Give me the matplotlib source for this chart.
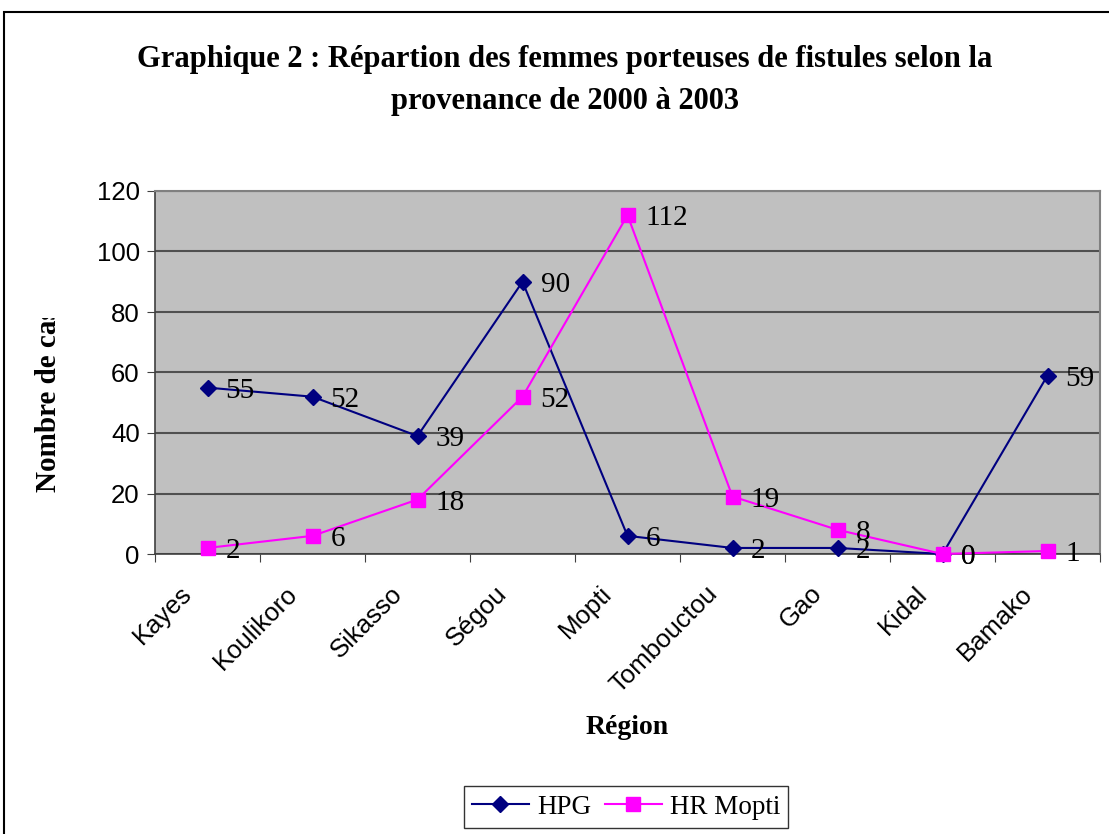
import matplotlib
matplotlib.use("Agg")
import matplotlib.pyplot as plt
from matplotlib.patches import Rectangle
from matplotlib.transforms import Bbox

regions = ["Kayes", "Koulikoro", "Sikasso", "Ségou", "Mopti", "Tombouctou", "Gao", "Kidal", "Bamako"]
hpg = [55, 52, 39, 90, 6, 2, 2, 0, 59]
hr_mopti = [2, 6, 18, 52, 112, 19, 8, 0, 1]
y_ticks = [0, 20, 40, 60, 80, 100, 120]

W, H = 1109, 834
fig = plt.figure(figsize=(W / 100, H / 100), dpi=100)
fig.patch.set_facecolor("white")

serif = ["Liberation Serif", "DejaVu Serif"]
sans = ["Liberation Sans", "DejaVu Sans"]

left, right, top, bottom = 155, 1100, 191, 554
ax = fig.add_axes([left / W, 1 - bottom / H, (right - left) / W, (bottom - top) / H])
ax.set_facecolor("#C0C0C0")

x = list(range(len(regions)))
ax.plot(x, hpg, color="#000080", lw=1.5, marker="D", markersize=8, zorder=3, clip_on=False)
ax.plot(x, hr_mopti, color="#FF00FF", lw=1.5, marker="s", markersize=10, zorder=3, clip_on=False)

for series in (hpg, hr_mopti):
    for xi, v in zip(x, series):
        ax.annotate(str(v), (xi, v), xytext=(18, -3), textcoords="offset pixels",
                    ha="left", va="center", fontsize=21, family=serif, color="black", zorder=4,
                    annotation_clip=False)

ax.set_xlim(-0.5, len(regions) - 0.5)
ax.set_ylim(0, 120)
ax.set_yticks(y_ticks)
ax.set_yticklabels([str(t) for t in y_ticks], fontsize=18.5, family=sans)
ax.yaxis.grid(True, color="#505050", lw=1.5)
ax.set_axisbelow(True)

ax.set_xticks([i - 0.5 for i in range(len(regions) + 1)])
ax.set_xticklabels([])
for xi, name in zip(x, regions):
    ax.annotate(name, (xi, 0), xycoords=("data", "axes fraction"), xytext=(-19, -36),
                textcoords="offset pixels", rotation=45, ha="right", va="center",
                rotation_mode="anchor", fontsize=18.5, family=sans, annotation_clip=False)
ax.tick_params(axis="x", which="major", length=6, color="#404040", direction="out")
ax.tick_params(axis="y", length=6, color="#404040", direction="out", pad=5)

for s in ["top", "right"]:
    ax.spines[s].set_color("#808080")
    ax.spines[s].set_linewidth(1.5)
for s in ["left", "bottom"]:
    ax.spines[s].set_color("#404040")
    ax.spines[s].set_linewidth(1.2)

fig.text(565 / W, 1 - 59 / H, "Graphique 2 : Répartion des femmes porteuses de fistules selon la",
         ha="center", va="center", fontsize=22, fontweight="bold", family=serif)
fig.text(565 / W, 1 - 101 / H, "provenance de 2000 à 2003",
         ha="center", va="center", fontsize=22, fontweight="bold", family=serif)

fig.text(627 / W, 1 - 727 / H, "Région", ha="center", va="center", fontsize=20,
         fontweight="bold", family=serif)

ylab = fig.text(48 / W, 1 - 492 / H, "Nombre de cas", ha="left", va="center", rotation=90,
                rotation_mode="anchor", fontsize=21, fontweight="bold", family=serif)
ylab.set_clip_box(Bbox.from_extents(0, 0, 200, H - 318))
ylab.set_clip_on(True)

leg = fig.legend(handles=ax.get_lines(), labels=["HPG", "HR Mopti"], loc="center",
                 bbox_to_anchor=(626 / W, 1 - 807 / H), ncol=2, frameon=True, fancybox=False,
                 prop={"family": serif, "size": 19.5}, handlelength=2.1, handletextpad=0.3,
                 columnspacing=0.5, borderpad=0.3, edgecolor="black")
leg.get_frame().set_linewidth(1.0)

fig.patches.append(Rectangle((4 / W, -0.1), 2, 1 - 12 / H + 0.1, transform=fig.transFigure,
                             fill=False, ec="black", lw=1.5, clip_on=False))

fig.savefig("out.png", dpi=100)
